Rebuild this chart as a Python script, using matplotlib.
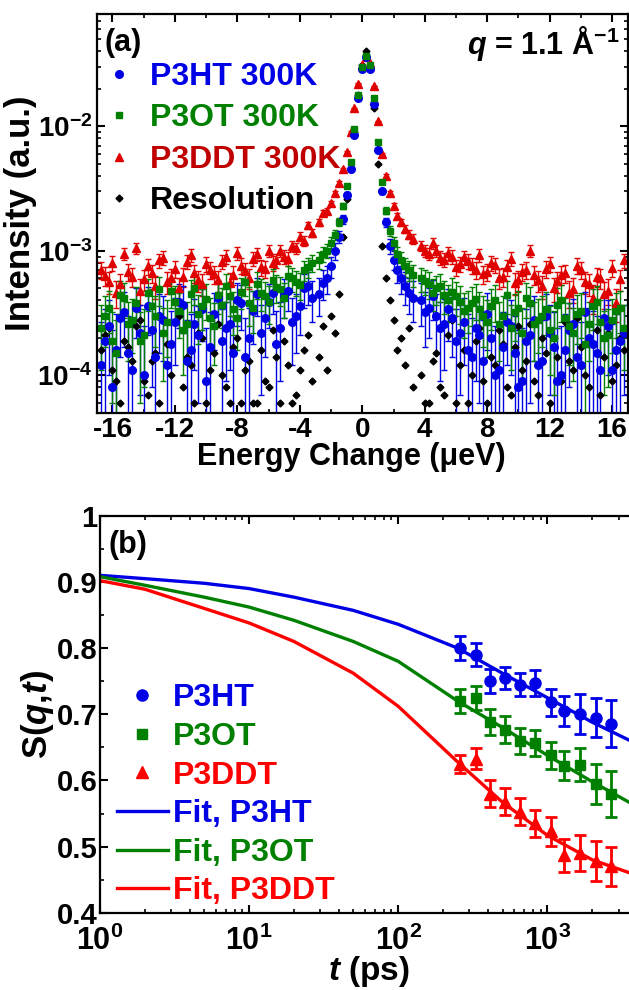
import numpy as np
import matplotlib
matplotlib.use("Agg")
import matplotlib.pyplot as plt
from matplotlib.ticker import MultipleLocator, LogLocator, NullFormatter, FuncFormatter

plt.rcParams['font.family'] = ['Liberation Sans', 'DejaVu Sans']
plt.rcParams['font.weight'] = 'bold'
plt.rcParams['axes.labelweight'] = 'bold'
plt.rcParams['mathtext.fontset'] = 'custom'
plt.rcParams['mathtext.rm'] = 'Liberation Sans:bold'
plt.rcParams['mathtext.it'] = 'Liberation Sans:italic:bold'
plt.rcParams['mathtext.bf'] = 'Liberation Sans:bold'
plt.rcParams['axes.unicode_minus'] = False

# ---- panel (a): QENS spectra, q = 1.1 1/A ----
energy = [-16.75, -16.25, -15.75, -15.25, -14.75, -14.25, -13.75, -13.25, -12.75, -12.25,
          -11.75, -11.25, -10.75, -10.25, -9.75, -9.25, -8.75, -8.25, -7.75, -7.25,
          -6.75, -6.25, -5.75, -5.25, -4.75, -4.25, -3.75, -3.25,
          -2.75, -2.5, -2.25, -2.0, -1.75, -1.5, -1.25, -1.0, -0.75, -0.5, -0.25, 0.0,
          0.25, 0.5, 0.75, 1.0, 1.25, 1.5, 1.75, 2.0, 2.25, 2.5, 2.75, 3.0, 3.25,
          3.75, 4.25, 4.75, 5.25, 5.75, 6.25, 6.75, 7.25, 7.75, 8.25, 8.75, 9.25, 9.75,
          10.25, 10.75, 11.25, 11.75, 12.25, 12.75, 13.25, 13.75, 14.25, 14.75, 15.25,
          15.75, 16.25, 16.75]

p3ht_int = [1.2e-4, 2.5e-4, 1.6e-4, 3.2e-4, 1.1e-4, 2.2e-4, 3.6e-4, 1.4e-4, 2.8e-4, 1.8e-4,
            3.9e-4, 1.3e-4, 2.6e-4, 3.4e-4, 1.7e-4, 4.2e-4, 2.4e-4, 1.5e-4, 3.8e-4, 2.0e-4,
            4.5e-4, 2.9e-4, 4.6e-4, 2.4e-4, 4.8e-4, 3.0e-4, 5.0e-4, 4.2e-4,
            4.5e-4, 5.5e-4, 6.0e-4, 7.5e-4, 1.0e-3, 1.3e-3, 1.8e-3, 2.8e-3, 4.5e-3, 8.5e-3,
            0.017, 0.029, 0.036, 0.029, 0.015, 6.5e-3, 3.0e-3, 1.7e-3, 1.1e-3, 8.5e-4,
            7.0e-4, 6.0e-4, 5.2e-4, 4.6e-4, 4.2e-4,
            4.0e-4, 3.5e-4, 3.0e-4, 2.6e-4, 2.9e-4, 2.2e-4, 1.6e-4, 2.4e-4, 1.3e-4, 2.0e-4,
            1.1e-4, 2.7e-4, 1.5e-4, 9e-5, 2.1e-4, 1.2e-4, 3.0e-4, 1.7e-4, 1.0e-4, 2.3e-4,
            1.4e-4, 3.2e-4, 1.8e-4, 1.1e-4, 2.5e-4, 1.6e-4, 2.2e-4]
p3ot_int = [2.4e-4, 3.5e-4, 1.5e-4, 4.2e-4, 2.8e-4, 1.9e-4, 4.6e-4, 3.0e-4, 2.2e-4, 4.8e-4,
            3.3e-4, 2.6e-4, 5.0e-4, 3.6e-4, 2.9e-4, 4.4e-4, 5.2e-4, 3.4e-4, 4.7e-4, 3.8e-4,
            5.4e-4, 4.3e-4, 5.8e-4, 4.9e-4, 6.3e-4, 5.6e-4, 7.0e-4, 8.0e-4,
            8.5e-4, 9.5e-4, 1.0e-3, 1.15e-3, 1.35e-3, 1.7e-3, 2.3e-3, 3.3e-3, 5.2e-3, 9.5e-3,
            0.018, 0.030, 0.037, 0.031, 0.017, 7.5e-3, 3.6e-3, 2.1e-3, 1.45e-3, 1.15e-3,
            9.5e-4, 8.5e-4, 7.5e-4, 7.0e-4, 6.4e-4,
            6.0e-4, 5.4e-4, 5.0e-4, 4.4e-4, 4.7e-4, 3.9e-4, 3.5e-4, 4.1e-4, 3.0e-4, 3.6e-4,
            2.6e-4, 4.4e-4, 3.2e-4, 2.2e-4, 3.8e-4, 2.8e-4, 3.4e-4, 2.0e-4, 4.0e-4, 2.5e-4,
            3.1e-4, 1.8e-4, 3.6e-4, 2.7e-4, 2.1e-4, 3.3e-4, 2.4e-4]
p3ddt_int = [7.0e-4, 5.6e-4, 4.6e-4, 9.5e-4, 6.2e-4, 4.8e-4, 7.5e-4, 5.2e-4, 8.8e-4, 6.0e-4,
             5.0e-4, 8.2e-4, 6.6e-4, 5.4e-4, 7.0e-4, 5.8e-4, 9.0e-4, 6.4e-4, 7.6e-4, 6.0e-4,
             9.4e-4, 7.2e-4, 8.0e-4, 1.0e-3, 8.6e-4, 1.05e-3, 1.2e-3, 1.4e-3,
             1.7e-3, 2.0e-3, 2.1e-3, 2.4e-3, 2.9e-3, 3.5e-3, 4.5e-3, 6.2e-3, 9.0e-3, 0.014,
             0.022, 0.031, 0.036, 0.032, 0.021, 0.011, 6.0e-3, 4.0e-3, 2.9e-3, 2.3e-3,
             1.9e-3, 1.7e-3, 1.5e-3, 1.35e-3, 1.25e-3,
             1.1e-3, 9.5e-4, 1.0e-3, 8.5e-4, 9.0e-4, 7.8e-4, 8.3e-4, 7.0e-4, 6.5e-4, 8.0e-4,
             6.0e-4, 7.4e-4, 5.5e-4, 6.8e-4, 1.0e-3, 5.8e-4, 7.2e-4, 5.0e-4, 6.4e-4, 4.6e-4,
             7.6e-4, 5.6e-4, 4.2e-4, 6.0e-4, 4.8e-4, 3.8e-4, 8.4e-4]
resolution_int = [1.6e-4, 2.4e-4, 9e-5, 1.9e-4, 1.3e-4, 2.8e-4, 7e-5, 1.5e-4, 2.2e-4, 1.0e-4,
                  3.0e-4, 1.4e-4, 6e-5, 2.0e-4, 1.1e-4, 2.6e-4, 8e-5, 1.7e-4, 6e-5, 1.3e-4,
                  6e-5, 9e-5, 2.3e-4, 6e-5, 1.2e-4, 7e-5, 1.6e-4, 9e-5,
                  1.4e-4, 2.5e-4, 1.1e-4, 3.0e-4, 2.2e-4, 4.5e-4, 1.3e-3, 2.6e-3, 4.5e-3, 9e-3,
                  0.018, 0.031, 0.040, 0.030, 0.014, 5e-3, 1.1e-3, 6e-4, 4.0e-4, 2.8e-4,
                  1.6e-4, 2.0e-4, 1.2e-4, 2.4e-4, 8e-5,
                  1.0e-4, 6e-5, 1.5e-4, 7e-5, 2.8e-4, 1.2e-4, 6e-5, 1.9e-4, 9e-5, 1.4e-4,
                  2.3e-4, 8e-5, 1.7e-4, 1.1e-4, 2.6e-4, 7e-5, 1.5e-4, 2.0e-4, 9e-5, 1.3e-4,
                  2.9e-4, 1.0e-4, 1.8e-4, 7e-5, 2.2e-4, 1.2e-4, 1.6e-4]

# in-between energy channels of the wings
energy_w = [-16.5, -16.0, -15.5, -15.0, -14.5, -14.0, -13.5, -13.0, -12.5, -12.0,
            -11.5, -11.0, -10.5, -10.0, -9.5, -9.0, -8.5, -8.0, -7.5, -7.0,
            -6.5, -6.0, -5.5, -5.0, -4.5, -4.0, -3.5,
            4.0, 4.5, 5.0, 5.5, 6.0, 6.5, 7.0, 7.5, 8.0, 8.5, 9.0, 9.5, 10.0,
            10.5, 11.0, 11.5, 12.0, 12.5, 13.0, 13.5, 14.0, 14.5, 15.0, 15.5, 16.0, 16.5]
p3ht_w = [1.9e-4, 8e-5, 2.9e-4, 1.5e-4, 3.5e-4, 1.0e-4, 2.3e-4, 3.0e-4, 1.2e-4, 2.7e-4,
          3.7e-4, 1.6e-4, 2.1e-4, 9e-5, 3.1e-4, 1.9e-4, 2.6e-4, 4.0e-4, 1.4e-4, 3.3e-4,
          2.2e-4, 3.9e-4, 1.8e-4, 4.4e-4, 2.7e-4, 3.6e-4, 5.2e-4,
          3.2e-4, 4.3e-4, 2.4e-4, 3.4e-4, 1.9e-4, 2.7e-4, 1.4e-4, 2.1e-4, 3.1e-4, 1.0e-4,
          1.7e-4, 2.5e-4, 8e-5, 1.9e-4, 2.8e-4, 1.3e-4, 2.2e-4, 9e-5, 1.6e-4, 2.6e-4,
          1.2e-4, 2.0e-4, 1.5e-4, 2.9e-4, 1.1e-4, 1.9e-4]
p3ot_w = [3.0e-4, 1.9e-4, 4.4e-4, 2.6e-4, 3.8e-4, 2.1e-4, 3.6e-4, 4.9e-4, 2.7e-4, 3.9e-4,
          2.3e-4, 4.5e-4, 3.1e-4, 4.1e-4, 2.5e-4, 3.7e-4, 4.3e-4, 2.9e-4, 5.6e-4, 3.5e-4,
          4.6e-4, 3.9e-4, 5.1e-4, 4.2e-4, 6.0e-4, 5.3e-4, 7.4e-4,
          5.7e-4, 4.6e-4, 5.2e-4, 4.0e-4, 4.3e-4, 3.3e-4, 3.8e-4, 3.4e-4, 2.7e-4, 4.0e-4,
          3.0e-4, 2.4e-4, 3.5e-4, 4.2e-4, 2.6e-4, 3.0e-4, 2.3e-4, 3.7e-4, 2.9e-4, 2.2e-4,
          3.3e-4, 2.6e-4, 3.9e-4, 2.0e-4, 2.8e-4, 3.5e-4]
p3ddt_w = [6.3e-4, 8.0e-4, 5.4e-4, 6.8e-4, 1.05e-3, 5.9e-4, 6.6e-4, 8.4e-4, 5.6e-4, 7.2e-4,
           6.2e-4, 9.2e-4, 5.8e-4, 7.8e-4, 6.5e-4, 8.2e-4, 5.5e-4, 9.6e-4, 6.9e-4, 8.6e-4,
           7.4e-4, 1.0e-3, 8.4e-4, 9.0e-4, 1.1e-3, 1.3e-3, 1.6e-3,
           1.0e-3, 1.15e-3, 8.8e-4, 9.6e-4, 7.4e-4, 8.9e-4, 7.6e-4, 9.2e-4, 6.8e-4, 7.7e-4,
           6.2e-4, 8.6e-4, 5.8e-4, 7.0e-4, 6.4e-4, 5.2e-4, 7.8e-4, 5.7e-4, 6.6e-4, 4.9e-4,
           7.0e-4, 5.4e-4, 6.2e-4, 4.5e-4, 7.3e-4, 5.9e-4]
resolution_w = [2.1e-4, 1.1e-4, 6e-5, 1.7e-4, 2.5e-4, 9e-5, 1.3e-4, 6e-5, 1.8e-4, 2.7e-4,
                8e-5, 1.2e-4, 2.2e-4, 6e-5, 1.5e-4, 1.0e-4, 6e-5, 2.0e-4, 1.1e-4, 6e-5,
                1.6e-4, 8e-5, 1.4e-4, 1.9e-4, 6e-5, 1.1e-4, 2.1e-4,
                6e-5, 1.3e-4, 8e-5, 2.1e-4, 6e-5, 1.6e-4, 1.0e-4, 2.4e-4, 6e-5, 1.2e-4,
                1.8e-4, 7e-5, 2.5e-4, 1.3e-4, 9e-5, 2.0e-4, 6e-5, 1.4e-4, 2.7e-4, 1.1e-4,
                1.7e-4, 8e-5, 2.3e-4, 1.4e-4, 9e-5, 2.0e-4]

# typical error bar half-height in the wings
p3ht_err = 1.5e-4
p3ot_err = 1.3e-4
p3ddt_err = 1.1e-4

# ---- panel (b): S(q,t) ----
t_data = [260, 330, 410, 520, 660, 820, 1050, 1300, 1660, 2130, 2650]
p3ht_s = [0.800, 0.790, 0.750, 0.755, 0.745, 0.747, 0.718, 0.705, 0.700, 0.695, 0.686]
p3ot_s = [0.720, 0.725, 0.688, 0.677, 0.660, 0.657, 0.638, 0.622, 0.624, 0.595, 0.580]
p3ddt_s = [0.625, 0.633, 0.580, 0.568, 0.553, 0.535, 0.523, 0.487, 0.490, 0.478, 0.470]
p3ht_serr = [0.018, 0.017, 0.018, 0.017, 0.018, 0.020, 0.020, 0.023, 0.030, 0.030, 0.035]
p3ot_serr = [0.018, 0.018, 0.020, 0.020, 0.020, 0.020, 0.020, 0.022, 0.025, 0.030, 0.035]
p3ddt_serr = [0.014, 0.016, 0.020, 0.020, 0.020, 0.020, 0.022, 0.025, 0.027, 0.030, 0.030]

t_fit = [1, 2, 5, 10, 20, 50, 100, 250, 500, 1000, 2000, 3600]
p3ht_fit = [0.910, 0.905, 0.898, 0.890, 0.877, 0.857, 0.836, 0.800, 0.762, 0.725, 0.688, 0.660]
p3ot_fit = [0.908, 0.895, 0.877, 0.862, 0.842, 0.810, 0.780, 0.720, 0.680, 0.638, 0.598, 0.566]
p3ddt_fit = [0.902, 0.889, 0.860, 0.838, 0.810, 0.762, 0.712, 0.628, 0.567, 0.517, 0.480, 0.460]

BLUE = '#0000e6'
GREEN = '#008000'
RED_A = '#e00000'
RED_B = '#ff0000'

fig = plt.figure(figsize=(6.29, 9.90), dpi=100)
ax1 = fig.add_axes([0.154, 0.583, 0.844, 0.403])
ax2 = fig.add_axes([0.159, 0.078, 0.854, 0.401])

# panel (a)
e_all = np.concatenate([energy, energy_w])
err_kw = dict(linestyle='none', elinewidth=1.0, capsize=2.5, capthick=1.0)
hr = ax1.errorbar(e_all, np.concatenate([p3ddt_int, p3ddt_w]), yerr=p3ddt_err,
                  fmt='^', ms=5.5, color=RED_A, **err_kw)
hb = ax1.errorbar(e_all, np.concatenate([p3ht_int, p3ht_w]), yerr=p3ht_err,
                  fmt='o', ms=5.5, color=BLUE, **err_kw)
hg = ax1.errorbar(e_all, np.concatenate([p3ot_int, p3ot_w]), yerr=p3ot_err,
                  fmt='s', ms=5, color=GREEN, **err_kw)
hk, = ax1.plot(e_all, np.concatenate([resolution_int, resolution_w]), 'D', ms=3.5,
               color='black', linestyle='none')

ax1.set_yscale('log')
ax1.set_xlim(-17, 17)
ax1.set_ylim(5e-5, 0.08)
ax1.xaxis.set_major_locator(MultipleLocator(4))
ax1.xaxis.set_minor_locator(MultipleLocator(2))
ax1.yaxis.set_major_locator(LogLocator(base=10, numticks=10))
ax1.yaxis.set_minor_locator(LogLocator(base=10, subs=np.arange(2, 10), numticks=10))
ax1.yaxis.set_minor_formatter(NullFormatter())
ax1.set_xlabel('Energy Change (μeV)', fontsize=22, labelpad=-1)
ax1.xaxis.label.set_x(0.48)
ax1.set_ylabel('Intensity (a.u.)', fontsize=25, labelpad=0)
ax1.text(0.015, 0.965, '(a)', transform=ax1.transAxes, fontsize=22, va='top', ha='left')
ax1.text(0.985, 0.975, r'$q$ = 1.1 Å$^{-1}$', transform=ax1.transAxes, fontsize=22,
         va='top', ha='right')
ax1.legend([hb[0], hg[0], hr[0], hk],
           ['P3HT 300K', 'P3OT 300K', 'P3DDT 300K', 'Resolution'],
           loc='upper left', bbox_to_anchor=(0.024, 0.88), frameon=False,
           fontsize=23, handlelength=0.6, handletextpad=0.65, labelspacing=0.36,
           borderpad=0, borderaxespad=0,
           labelcolor=[BLUE, GREEN, '#c00000', 'black'])

# panel (b)
kw_b = dict(linestyle='none', elinewidth=2.0, capsize=4, capthick=2.0)
pb = ax2.errorbar(t_data, p3ht_s, yerr=p3ht_serr, fmt='o', ms=8, color=BLUE, **kw_b)
pg = ax2.errorbar(t_data, p3ot_s, yerr=p3ot_serr, fmt='s', ms=7.5, color=GREEN, **kw_b)
pr = ax2.errorbar(t_data, p3ddt_s, yerr=p3ddt_serr, fmt='^', ms=8, color=RED_B, **kw_b)
fb, = ax2.plot(t_fit, p3ht_fit, '-', color=BLUE, lw=2.4)
fg, = ax2.plot(t_fit, p3ot_fit, '-', color=GREEN, lw=2.4)
fr, = ax2.plot(t_fit, p3ddt_fit, '-', color=RED_B, lw=2.4)

ax2.set_xscale('log')
ax2.set_xlim(1, 4000)
ax2.set_ylim(0.4, 1.0)
ax2.yaxis.set_major_locator(MultipleLocator(0.1))
ax2.yaxis.set_minor_locator(MultipleLocator(0.05))
ax2.yaxis.set_major_formatter(FuncFormatter(lambda v, p: f'{v:g}'))
ax2.xaxis.set_major_locator(LogLocator(base=10, numticks=10))
ax2.xaxis.set_minor_locator(LogLocator(base=10, subs=np.arange(2, 10), numticks=10))
ax2.xaxis.set_minor_formatter(NullFormatter())
ax2.set_xlabel(r'$t$ (ps)', fontsize=24, labelpad=-2)
ax2.set_ylabel(r'$\mathrm{S(}q\mathrm{,}t\mathrm{)}$', fontsize=25, labelpad=0)
ax2.text(0.015, 0.965, '(b)', transform=ax2.transAxes, fontsize=22, va='top', ha='left')
ax2.legend([pb[0], pg[0], pr[0], fb, fg, fr],
           ['P3HT', 'P3OT', 'P3DDT', 'Fit, P3HT', 'Fit, P3OT', 'Fit, P3DDT'],
           loc='upper left', bbox_to_anchor=(0.031, 0.578), frameon=False,
           fontsize=23, handlelength=1.6, handletextpad=0.15, labelspacing=0.27,
           borderpad=0, borderaxespad=0,
           labelcolor=[BLUE, GREEN, RED_B, BLUE, GREEN, RED_B])

for ax in (ax1, ax2):
    for sp in ax.spines.values():
        sp.set_linewidth(1.6)
    ax.tick_params(which='both', direction='in', top=True, right=True)
    ax.tick_params(which='major', length=6, width=1.5)
    ax.tick_params(which='minor', length=3, width=1.2)
ax1.tick_params(labelsize=20, pad=3)
ax2.tick_params(axis='y', labelsize=21, pad=2)
ax2.tick_params(axis='x', labelsize=22, pad=9)

fig.savefig('out.png', dpi=100)
